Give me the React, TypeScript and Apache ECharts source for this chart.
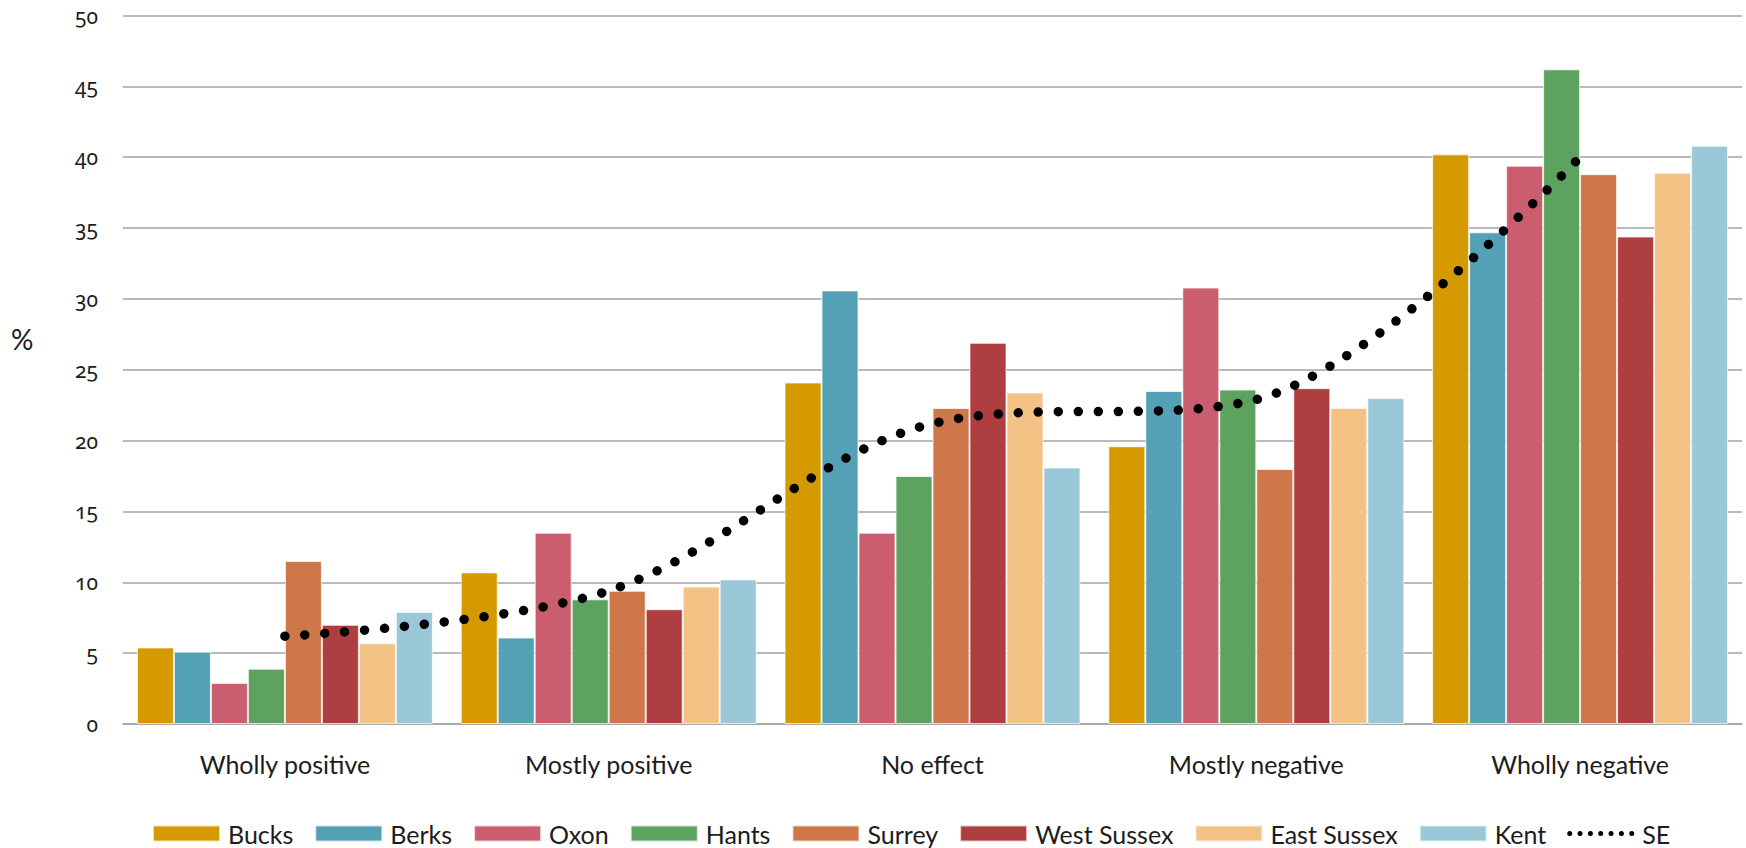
import React, { useEffect, useRef } from "react";
import * as echarts from "echarts";

const categories = ["Wholly positive", "Mostly positive", "No effect", "Mostly negative", "Wholly negative"];
const seriesNames = ["Bucks", "Berks", "Oxon", "Hants", "Surrey", "West Sussex", "East Sussex", "Kent"];
const bucks = [5.4, 10.7, 24.1, 19.6, 40.2];
const berks = [5.1, 6.1, 30.6, 23.5, 34.7];
const oxon = [2.9, 13.5, 13.5, 30.8, 39.4];
const hants = [3.9, 8.8, 17.5, 23.6, 46.2];
const surrey = [11.5, 9.4, 22.3, 18.0, 38.8];
const westSussex = [7.0, 8.1, 26.9, 23.7, 34.4];
const eastSussex = [5.7, 9.7, 23.4, 22.3, 38.9];
const kent = [7.9, 10.2, 18.1, 23.0, 40.8];
const se = [6.2, 9.4, 21.2, 22.9, 40.0];
const yTicks = { min: 0, max: 50, interval: 5 };

const barData = [bucks, berks, oxon, hants, surrey, westSussex, eastSussex, kent];
const barColors = ["#D49A00", "#54A1B6", "#CB5E6E", "#5EA25F", "#CD774A", "#AE3E40", "#F3C386", "#9BC8D8"];

const FONT = "Lato, 'Open Sans', sans-serif";
const NUMFONT = "'Noto Sans', 'Open Sans', sans-serif";
const TEXT = "#1c1c1c";

// 7 round dots icon for the SE legend entry
function dotsIcon(): string {
  const w = 67, h = 16, r = 2.5, n = 7;
  let d = `path://M0,0M${w},${h}`;
  for (let i = 0; i < n; i++) {
    const cx = r + (i * (w - 2 * r)) / (n - 1);
    const cy = h / 2;
    d += `M${(cx - r).toFixed(2)},${cy}a${r},${r} 0 1,0 ${2 * r},0a${r},${r} 0 1,0 ${-2 * r},0Z`;
  }
  return d;
}

export default function App() {
  const ref = useRef<HTMLDivElement>(null);

  useEffect(() => {
    if (!ref.current) return;
    const chart = echarts.init(ref.current, null, { renderer: "svg" });

    const bars = seriesNames.map((name, i) => ({
      name,
      type: "bar",
      data: barData[i],
      barGap: "0%",
      barCategoryGap: "8.6%",
      itemStyle: { color: barColors[i], borderColor: "rgba(255,255,255,0.7)", borderWidth: 1 },
      emphasis: { disabled: true },
    }));

    chart.setOption({
      animation: false,
      textStyle: { fontFamily: FONT },
      grid: { left: 123, right: 4, top: 15.5, bottom: 124, containLabel: false },
      xAxis: {
        type: "category",
        data: categories,
        axisTick: { show: false },
        axisLine: { lineStyle: { color: "#a3a3a3", width: 1.5 } },
        axisLabel: { color: TEXT, fontSize: 25, margin: 27, fontFamily: FONT },
      },
      yAxis: {
        type: "value",
        min: yTicks.min,
        max: yTicks.max,
        interval: yTicks.interval,
        axisLine: { show: false },
        axisTick: { show: false },
        splitLine: { lineStyle: { color: "#a3a3a3", width: 1.5 } },
        axisLabel: { color: TEXT, fontSize: 21, margin: 25, fontFamily: NUMFONT },
      },
      legend: {
        left: 152,
        top: 821,
        padding: 0,
        itemWidth: 67,
        itemHeight: 16,
        itemGap: 21,
        icon: "rect",
        textStyle: { color: TEXT, fontSize: 25, fontFamily: FONT, padding: [0, 0, 0, 3] },
        data: [
          ...seriesNames.map((n) => ({ name: n })),
          { name: "SE", icon: dotsIcon(), itemStyle: { color: "#000", borderWidth: 0 } },
        ],
      },
      graphic: [
        {
          type: "text",
          left: 11,
          top: 325,
          style: { text: "%", fontSize: 28, fill: TEXT, fontFamily: FONT },
        },
      ],
      series: [
        ...bars,
        {
          name: "SE",
          type: "line",
          data: se,
          smooth: 0.33,
          symbol: "none",
          z: 5,
          itemStyle: { color: "#000" },
          lineStyle: { color: "#000", width: 9.5, type: [0.001, 20], cap: "round" },
          emphasis: { disabled: true },
        },
      ],
    });

    return () => chart.dispose();
  }, []);

  return (
    <>
      <style>{`#chart-root text { font-variant-numeric: oldstyle-nums !important; }`}</style>
      <div
        id="chart-root"
        ref={ref}
        style={{ position: "absolute", left: 0, top: 0, width: 1746, height: 848, background: "#fff" }}
      />
    </>
  );
}
